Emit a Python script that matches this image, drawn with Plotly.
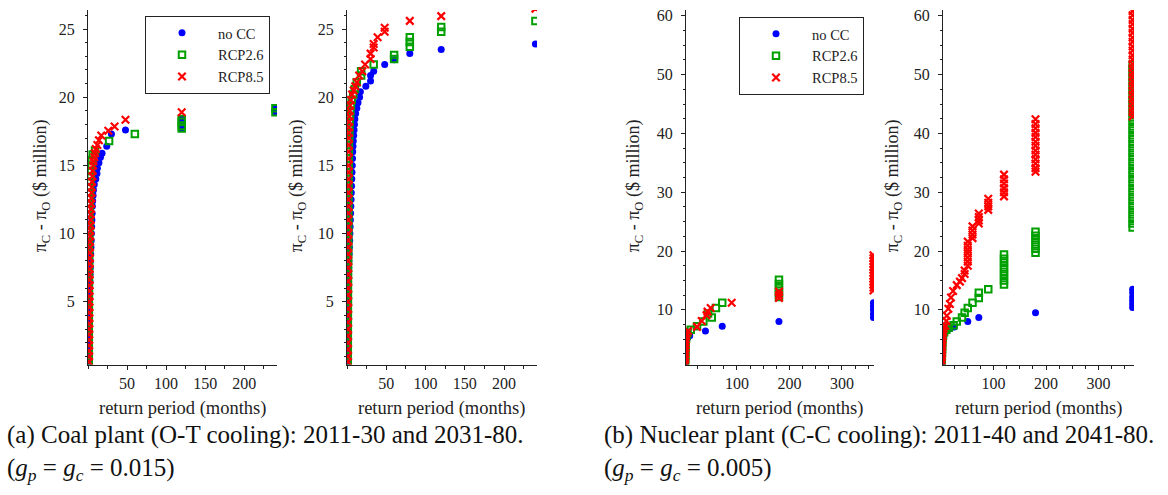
import plotly.graph_objects as go

W, H = 1168, 495

# ---------------- data: (return period [months], pi_C - pi_O [$ million]) ----------------
# (a) Coal plant, O-T cooling, 2011-30
coal1_nocc = [(240, 19.2), (240, 18.9), (120, 18.4), (120, 18.1), (120, 17.7), (48, 17.6), (30, 17.3),
              (24, 16.4), (18, 15.9), (16, 15.6), (14, 15.2), (12, 14.8), (11.5, 14.4), (10, 14.0),
              (8, 13.6), (7, 13.2), (6.5, 12.8), (6, 12.4), (5.6, 12.0), (5.3, 11.5), (5, 11.0),
              (4.7, 10.5), (4.4, 10.0), (4.1, 9.5), (3.8, 9.0), (3.5, 8.5), (3.2, 8.0), (3.0, 7.5),
              (2.7, 7.0), (2.5, 6.5), (2.3, 6.0), (2.1, 5.5), (1.9, 5.0), (1.8, 4.5), (1.7, 4.0),
              (1.6, 3.5), (1.5, 3.0), (1.4, 2.5), (1.3, 2.0), (1.2, 1.5), (1.1, 1.0), (1.0, 0.6)]
coal1_rcp26 = [(240, 19.2), (240, 18.9), (120, 18.4), (120, 18.2), (120, 17.9), (120, 17.7), (60, 17.3),
               (27, 16.8), (9, 16.1), (6, 15.8), (5, 15.4), (4.5, 15.0), (4, 14.6), (3.5, 14.2), (3.2, 13.8),
               (3, 13.4), (2.8, 13.0), (2.6, 12.6), (2.4, 12.2), (2.2, 11.8), (2, 11.4), (1.9, 11.0),
               (1.8, 10.6), (1.7, 10.2), (1.6, 9.8), (1.5, 9.4), (1.45, 9.0), (1.4, 8.5), (1.35, 8.0),
               (1.3, 7.5), (1.25, 7.0), (1.2, 6.5), (1.18, 6.0), (1.15, 5.5), (1.12, 5.0), (1.1, 4.5),
               (1.08, 4.0), (1.06, 3.5), (1.05, 3.0), (1.04, 2.5), (1.03, 2.0), (1.02, 1.5), (1.01, 1.0),
               (1.0, 0.6)]
coal1_rcp85 = [(120, 18.9), (48, 18.35), (34, 17.85), (26, 17.55), (17, 17.2), (14, 16.85), (12, 16.5),
               (10, 16.2), (9, 15.9), (8, 15.6), (7, 15.3), (6.5, 15.0), (6, 14.6), (5.6, 14.2), (5.2, 13.8),
               (4.9, 13.4), (4.6, 13.0), (4.3, 12.6), (4, 12.2), (3.8, 11.8), (3.6, 11.4), (3.4, 11.0),
               (3.2, 10.6), (3.0, 10.2), (2.8, 9.8), (2.6, 9.4), (2.5, 9.0), (2.4, 8.6), (2.3, 8.2),
               (2.2, 7.8), (2.1, 7.4), (2.0, 7.0), (1.95, 6.6), (1.9, 6.2), (1.85, 5.8), (1.8, 5.4),
               (1.75, 5.0), (1.7, 4.6), (1.65, 4.2), (1.6, 3.8), (1.55, 3.4), (1.5, 3.0), (1.45, 2.6),
               (1.4, 2.2), (1.35, 1.8), (1.3, 1.4), (1.25, 1.0), (1.2, 0.6)]

# (a) Coal plant, O-T cooling, 2031-80
coal2_nocc = [(240, 23.9), (120, 23.5), (80, 23.2), (60, 22.75), (48, 22.4), (34, 21.9), (30, 21.6),
              (30, 21.2), (24, 20.8), (17, 20.4), (16, 20.0), (14, 19.6), (12.5, 19.2), (11, 18.8),
              (10, 18.4), (9.5, 18.0), (9, 17.6), (8.5, 17.2), (8, 16.8), (7.6, 16.4), (7.3, 16.0),
              (7, 15.5), (6.7, 15.0), (6.4, 14.5), (6.1, 14.0), (5.8, 13.5), (5.5, 13.0), (5.2, 12.5),
              (4.9, 12.0), (4.6, 11.5), (4.3, 11.0), (4.0, 10.5), (3.7, 10.0), (3.4, 9.5), (3.1, 9.0),
              (2.8, 8.5), (2.5, 8.0), (2.3, 7.5), (2.1, 7.0), (1.9, 6.5), (1.8, 6.0), (1.7, 5.5),
              (1.6, 5.0), (1.5, 4.5), (1.45, 4.0), (1.4, 3.5), (1.35, 3.0), (1.3, 2.5), (1.25, 2.0),
              (1.2, 1.5), (1.1, 1.0), (1.0, 0.6)]
coal2_rcp26 = [(240, 25.6), (120, 25.15), (120, 24.8), (80, 24.4), (80, 24.05), (80, 23.7), (60, 23.1),
               (60, 22.8), (34, 22.4), (18, 21.9), (18, 21.6), (12.5, 21.1), (10, 20.6), (8, 20.2),
               (6, 19.8), (5, 19.4), (4.3, 19.0), (3.8, 18.6), (3.4, 18.2), (3.1, 17.8), (2.9, 17.4),
               (2.7, 17.0), (2.5, 16.5), (2.4, 16.0), (2.3, 15.5), (2.2, 15.0), (2.1, 14.5), (2.0, 14.0),
               (1.9, 13.5), (1.85, 13.0), (1.8, 12.5), (1.75, 12.0), (1.7, 11.5), (1.65, 11.0),
               (1.6, 10.5), (1.55, 10.0), (1.5, 9.5), (1.45, 9.0), (1.4, 8.5), (1.35, 8.0), (1.3, 7.5),
               (1.28, 7.0), (1.25, 6.5), (1.22, 6.0), (1.2, 5.5), (1.18, 5.0), (1.15, 4.5), (1.12, 4.0),
               (1.1, 3.5), (1.08, 3.0), (1.06, 2.5), (1.04, 2.0), (1.02, 1.5), (1.01, 1.0), (1.0, 0.6)]
coal2_rcp85 = [(240, 26.5), (120, 25.95), (80, 25.6), (48, 25.1), (48, 24.8), (39, 24.4), (34, 23.9),
               (34, 23.65), (30, 23.2), (30, 22.8), (23, 22.4), (19.5, 21.9), (15.5, 21.6), (12.5, 21.1),
               (10.5, 20.8), (8.5, 20.5), (6.5, 20.2), (5, 19.8), (4, 19.4), (3.5, 19.0), (3.1, 18.6),
               (2.8, 18.2), (2.6, 17.8), (2.5, 17.4), (2.4, 17.0), (2.3, 16.5), (2.2, 16.0), (2.15, 15.5),
               (2.1, 15.0), (2.05, 14.5), (2.0, 14.0), (1.95, 13.5), (1.9, 13.0), (1.85, 12.5), (1.8, 12.0),
               (1.75, 11.5), (1.7, 11.0), (1.65, 10.5), (1.6, 10.0), (1.55, 9.5), (1.5, 9.0), (1.48, 8.5),
               (1.45, 8.0), (1.42, 7.5), (1.4, 7.0), (1.38, 6.5), (1.35, 6.0), (1.32, 5.5), (1.3, 5.0),
               (1.28, 4.5), (1.25, 4.0), (1.22, 3.5), (1.2, 3.0), (1.18, 2.5), (1.15, 2.0), (1.12, 1.5),
               (1.08, 1.0), (1.05, 0.6)]

# (b) Nuclear plant, C-C cooling, 2011-40
nuc1_nocc = [(360, 11.2), (360, 10.6), (360, 10.0), (360, 9.3), (360, 8.7), (180, 8.0), (72, 7.2),
             (40, 6.4), (10, 5.6), (6, 5.2), (4, 4.7), (3, 4.2), (2.5, 3.7), (2.2, 3.2), (2, 2.7),
             (1.8, 2.2), (1.6, 1.7), (1.4, 1.2), (1.2, 0.8)]
nuc1_rcp26 = [(180, 15.1), (180, 14.4), (180, 13.7), (180, 12.9), (180, 12.2), (72, 11.2), (60, 10.3),
              (52, 8.7), (45, 9.4), (36, 8.0), (24, 7.2), (12, 6.6), (6, 6.1), (4, 5.6), (3, 5.1),
              (2.5, 4.6), (2.2, 4.1), (2, 3.6), (1.8, 3.1), (1.6, 2.6), (1.5, 2.1), (1.3, 1.6),
              (1.2, 1.1), (1.1, 0.8)]
nuc1_rcp85 = [(360, 19.3), (360, 18.8), (360, 18.3), (360, 17.8), (360, 17.3), (360, 16.8), (360, 16.3),
              (360, 15.8), (360, 15.3), (360, 14.8), (360, 14.3), (360, 13.8), (360, 13.3), (180, 13.1),
              (180, 12.5), (180, 12.0), (90, 11.2), (50, 10.3), (44, 9.7), (42, 9.1), (33, 8.1),
              (24, 7.1), (7, 6.4), (4, 6.0), (3, 5.5), (2.5, 5.0), (2.2, 4.5), (2, 4.0), (1.8, 3.5),
              (1.7, 3.0), (1.5, 2.5), (1.4, 2.0), (1.3, 1.5), (1.2, 1.0), (1.1, 0.7)]

# (b) Nuclear plant, C-C cooling, 2041-80
nuc2_nocc = [(365, 13.5), (365, 12.9), (365, 12.2), (365, 11.6), (365, 11.0), (365, 10.4), (180, 9.5),
             (72, 8.7), (51, 8.0), (25, 7.1), (17, 6.8), (8, 6.4), (5, 6.0), (3.5, 5.5), (3, 5.0),
             (2.5, 4.5), (2.2, 4.0), (2, 3.5), (1.8, 3.0), (1.6, 2.5), (1.5, 2.0), (1.4, 1.5),
             (1.2, 1.0), (1.1, 0.7)]
nuc2_rcp26 = [(365, 51.7), (365, 51.0), (365, 50.2), (365, 49.5), (365, 48.7), (365, 48.0), (365, 47.2),
              (365, 46.5), (365, 45.7), (365, 45.0), (365, 44.2), (365, 43.5), (365, 42.7), (365, 42.0),
              (365, 41.2), (365, 40.5), (365, 39.7), (365, 39.0), (365, 38.2), (365, 37.5), (365, 36.7),
              (365, 36.0), (365, 35.2), (365, 34.5), (365, 33.7), (365, 33.0), (365, 32.2), (365, 31.5),
              (365, 30.7), (365, 30.0), (365, 29.2), (365, 28.5), (365, 27.7), (365, 27.0), (365, 26.2),
              (365, 25.5), (365, 24.7), (365, 24.0),
              (180, 23.3), (180, 22.6), (180, 21.9), (180, 21.1), (180, 20.4), (180, 19.7),
              (120, 19.4), (120, 18.7), (120, 18.0), (120, 17.2), (120, 16.5), (120, 15.8), (120, 15.0),
              (120, 14.3), (90, 13.5), (72, 12.9), (72, 12.0), (60, 11.2), (51, 10.3), (45, 9.5),
              (40, 8.7), (30, 8.0), (24, 7.4), (15, 7.0), (10, 6.6), (6, 6.2), (4, 5.7), (3, 5.2),
              (2.5, 4.6), (2.2, 4.0), (2, 3.4), (1.8, 2.8), (1.6, 2.2), (1.4, 1.6), (1.2, 1.0), (1.1, 0.7)]
nuc2_rcp85 = [(365, 60.8), (365, 60.1), (365, 59.3), (365, 58.6), (365, 57.8), (365, 57.1), (365, 56.3),
              (365, 55.6), (365, 54.8), (365, 54.1), (365, 53.3), (365, 52.6), (365, 51.8), (365, 51.1),
              (365, 50.3), (365, 49.6), (365, 48.8), (365, 48.1), (365, 47.3), (365, 46.6), (365, 45.8),
              (365, 45.1), (365, 44.3), (365, 43.6), (365, 42.9),
              (180, 42.4), (180, 41.6), (180, 40.9), (180, 40.1), (180, 39.4), (180, 38.6), (180, 37.9),
              (180, 37.1), (180, 36.4), (180, 35.6), (180, 34.9), (180, 34.1), (180, 33.5),
              (120, 33.0), (120, 32.2), (120, 31.5), (120, 30.7), (120, 30.0), (120, 29.3),
              (90, 28.9), (90, 28.2), (90, 27.6), (90, 27.0), (72, 26.4), (72, 25.8), (72, 25.2),
              (72, 24.7), (60, 24.2), (60, 23.5), (60, 22.8), (60, 22.2), (51, 21.6), (51, 20.9),
              (51, 20.2), (51, 19.6), (51, 18.9), (51, 18.2), (51, 17.5), (45, 16.7), (45, 16.1),
              (40, 15.4), (36, 14.8), (30, 14.2), (23, 13.2), (19, 12.1), (17, 11.0), (14, 10.2),
              (11, 9.0), (10, 8.1), (8, 7.3), (5, 6.8), (4, 6.2), (3.2, 5.6), (2.8, 5.0), (2.5, 4.4),
              (2.2, 3.8), (2, 3.2), (1.8, 2.6), (1.6, 2.0), (1.4, 1.4), (1.2, 0.9)]

series_names = ["no CC", "RCP2.6", "RCP8.5"]
x_ticks_coal = [50, 100, 150, 200]
y_ticks_coal = [5, 10, 15, 20, 25]
x_ticks_nuc = [100, 200, 300]
y_ticks_nuc = [10, 20, 30, 40, 50, 60]

x_title = "return period (months)"
y_title = "\u03c0<sub>C</sub> - \u03c0<sub>O</sub> ($ million)"
caption_a = ("(a) Coal plant (O-T cooling): 2011-30 and 2031-80.<br>"
             "(<i>g</i><sub><i>p</i></sub> = <i>g</i><sub><i>c</i></sub> = 0.015)")
caption_b = ("(b) Nuclear plant (C-C cooling): 2011-40 and 2041-80.<br>"
             "(<i>g</i><sub><i>p</i></sub> = <i>g</i><sub><i>c</i></sub> = 0.005)")

# ---------------- styling ----------------
BLUE, GREEN, RED = "#0000ff", "#00a000", "#ff0000"
FONT = "Liberation Serif"
INK = "#222222"

markers = [
    dict(symbol="circle", size=7, color=BLUE),
    dict(symbol="square-open", size=6.5, color=GREEN, line=dict(width=2, color=GREEN)),
    dict(symbol="x-thin-open", size=7.5, color=RED, line=dict(width=2.2, color=RED)),
]

panels = [
    dict(data=[coal1_nocc, coal1_rcp26, coal1_rcp85], xpx=(88, 277), xr=[0, 242], yr=[0.4, 26.4],
         xt=x_ticks_coal, yt=y_ticks_coal, ymin=1, legend="legend", ytx=41),
    dict(data=[coal2_nocc, coal2_rcp26, coal2_rcp85], xpx=(347, 537), xr=[0, 242], yr=[0.4, 26.4],
         xt=x_ticks_coal, yt=y_ticks_coal, ymin=1, legend=None, ytx=297),
    dict(data=[nuc1_nocc, nuc1_rcp26, nuc1_rcp85], xpx=(686, 874), xr=[3, 361], yr=[0.7, 61],
         xt=x_ticks_nuc, yt=y_ticks_nuc, ymin=2.5, legend="legend2", ytx=634),
    dict(data=[nuc2_nocc, nuc2_rcp26, nuc2_rcp85], xpx=(943, 1134), xr=[3.8, 367.6], yr=[0.7, 61],
         xt=x_ticks_nuc, yt=y_ticks_nuc, ymin=2.5, legend=None, ytx=893),
]

Y_TOP, Y_BOT = 8, 364
ydom = [1 - Y_BOT / H, 1 - Y_TOP / H]

fig = go.Figure()
annotations = []
layout = {}

for i, p in enumerate(panels):
    sfx = "" if i == 0 else str(i + 1)
    xa, ya = "x" + sfx, "y" + sfx
    for k, ser in enumerate(p["data"]):
        xs = [v[0] for v in ser]
        ys = [v[1] for v in ser]
        tr = dict(x=xs, y=ys, mode="markers", marker=markers[k], name=series_names[k],
                  xaxis=xa, yaxis=ya, hoverinfo="x+y")
        if p["legend"]:
            tr["showlegend"] = True
            tr["legend"] = p["legend"]
        else:
            tr["showlegend"] = False
        fig.add_trace(go.Scatter(**tr))

    axis_common = dict(showline=True, linecolor=INK, linewidth=1, ticks="outside", ticklen=4,
                       tickwidth=1, tickcolor=INK, showgrid=False, zeroline=False,
                       tickfont=dict(family=FONT, size=16, color=INK), fixedrange=True)
    layout["xaxis" + sfx] = dict(axis_common, domain=[p["xpx"][0] / W, p["xpx"][1] / W],
                                 range=p["xr"], anchor=ya, tickmode="array", tickvals=p["xt"],
                                 minor=dict(dtick=25, tick0=0, ticks="outside", ticklen=3,
                                            tickcolor=INK, showgrid=False))
    layout["yaxis" + sfx] = dict(axis_common, domain=ydom, range=p["yr"], anchor=xa,
                                 tickmode="array", tickvals=p["yt"], ticklabelstandoff=5,
                                 minor=dict(dtick=p["ymin"], tick0=0, ticks="outside", ticklen=2.5,
                                            tickcolor=INK, showgrid=False))
    # axis titles
    annotations.append(dict(text=x_title, xref="paper", yref="paper",
                            x=(p["xpx"][0] + p["xpx"][1]) / 2 / W, y=1 - 408 / H,
                            xanchor="center", yanchor="middle", showarrow=False,
                            font=dict(family=FONT, size=18.5, color=INK)))
    annotations.append(dict(text=y_title, xref="paper", yref="paper", x=p["ytx"] / W, y=1 - 185 / H,
                            xanchor="center", yanchor="middle", showarrow=False, textangle=-90,
                            font=dict(family=FONT, size=18, color=INK)))

for txt, xp in [(caption_a, 5), (caption_b, 602)]:
    annotations.append(dict(text=txt, xref="paper", yref="paper", x=xp / W, y=1 - 453 / H,
                            xanchor="left", yanchor="middle", align="left", showarrow=False,
                            font=dict(family=FONT, size=25, color="#111111")))

legend_common = dict(xanchor="left", yanchor="top", bordercolor=INK, borderwidth=1, bgcolor="white",
                     font=dict(family=FONT, size=14.5, color=INK), itemwidth=62, tracegroupgap=0)
layout["legend"] = dict(legend_common, x=145 / W, y=1 - 14 / H)
layout["legend2"] = dict(legend_common, x=739 / W, y=1 - 15 / H)

fig.update_layout(width=W, height=H, autosize=False, margin=dict(l=0, r=0, t=0, b=0),
                  paper_bgcolor="white", plot_bgcolor="white", annotations=annotations,
                  showlegend=True, **layout)

fig.write_html("out.html", config={"displayModeBar": False},
               post_script="document.body.style.margin='0px';")
